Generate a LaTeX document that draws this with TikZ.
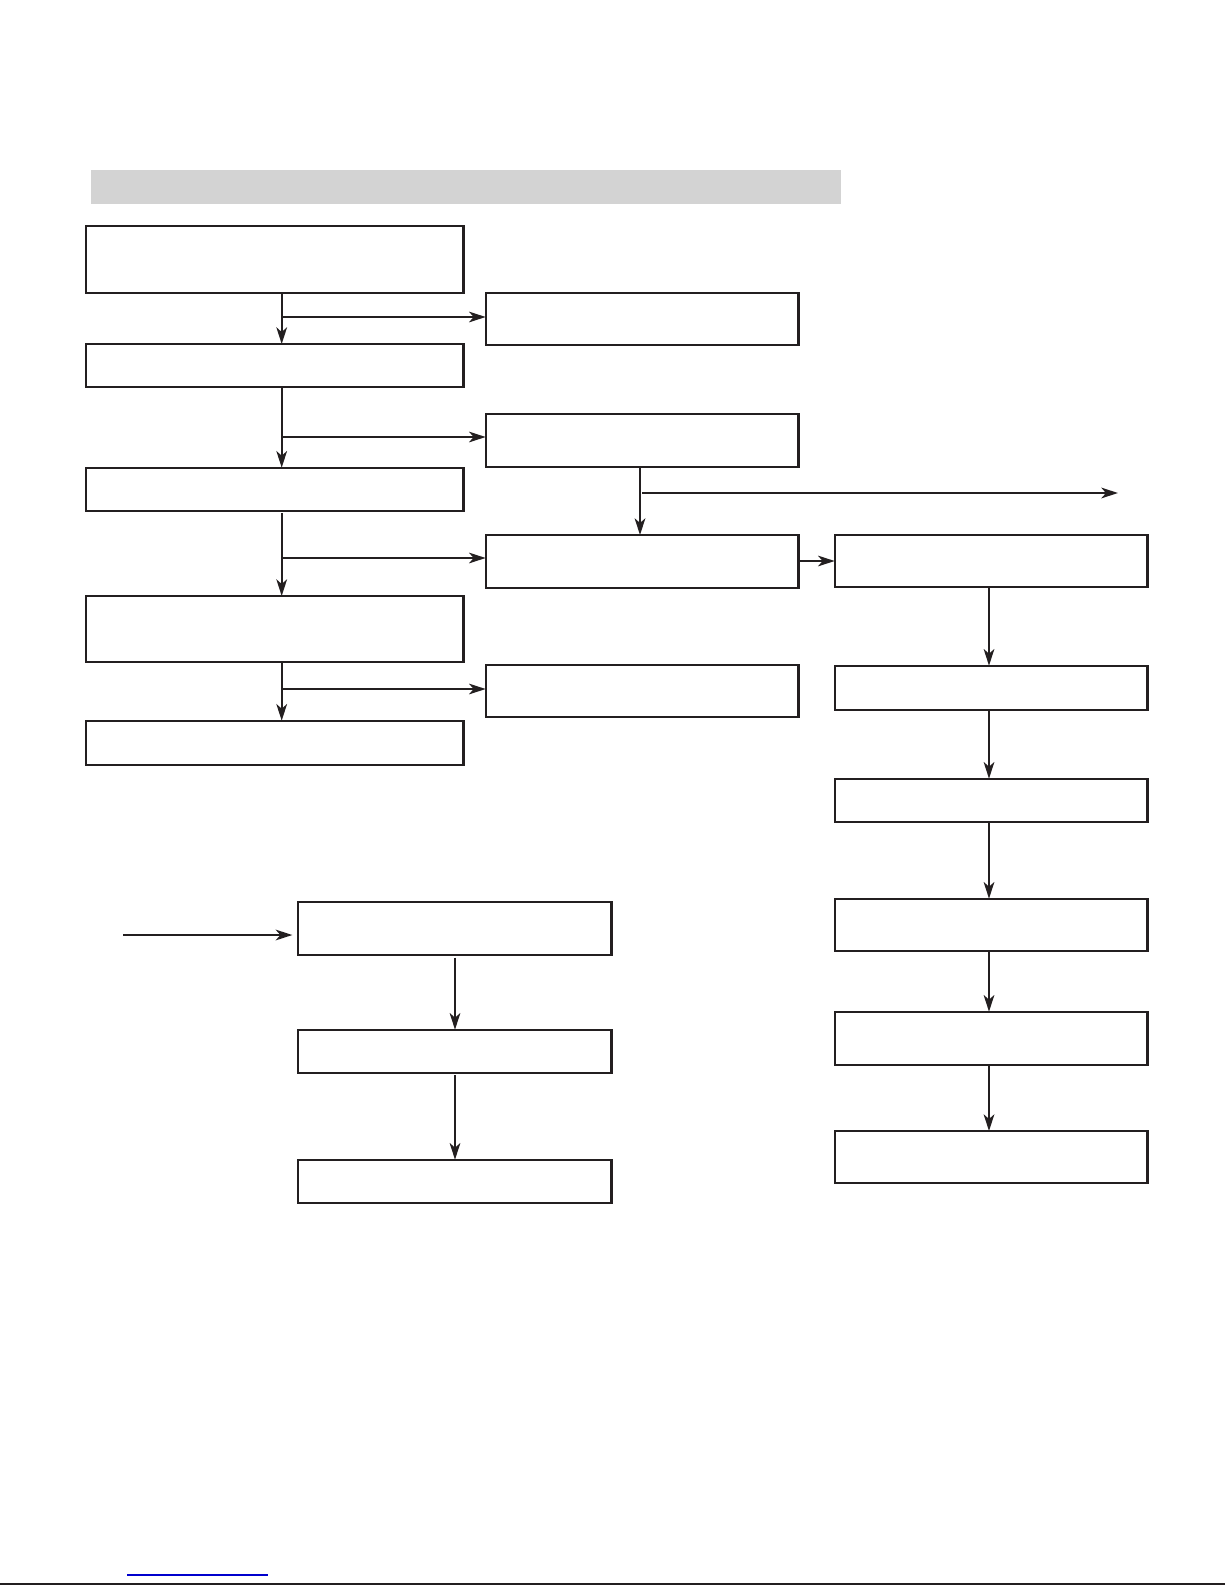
\documentclass[tikz,border=0pt]{standalone}
\usetikzlibrary{arrows.meta}
\definecolor{ink}{RGB}{35,31,32}
\definecolor{barfill}{RGB}{211,211,211}
\definecolor{linkblue}{RGB}{0,0,205}
\newcommand{\bx}[5]{\node[box, minimum width={(#4-#2)*0.75pt}, minimum height={(#5-#3)*0.75pt}] (#1) at ({(#2+#4)/2},{(#3+#5)/2}) {};}
\begin{document}
\begin{tikzpicture}[x=0.75pt,y=-0.75pt,
  box/.style={draw=ink, line width=1.8pt, rectangle, inner sep=0pt, outer sep=0pt, fill=white},
  arr/.style={draw=ink, line width=1.6pt, -{Stealth[length=12.5pt,width=8pt,inset=3.5pt]}},
  ln/.style={draw=ink, line width=1.6pt}]
\useasboundingbox (0,0) rectangle (1225,1585);
% header bar
\fill[barfill] (91,170) rectangle (841,204);
% left column
\bx{L1}{85.7}{225.7}{463.3}{292.7}
\bx{L2}{85.7}{344}{463.3}{387}
\bx{L3}{85.7}{467.7}{463.3}{511}
\bx{L4}{85.7}{596}{463.3}{662}
\bx{L5}{85.7}{720.7}{463.3}{765}
% middle column
\bx{M1}{485.7}{292.7}{798.3}{345}
\bx{M2}{485.7}{413.7}{798.3}{467}
\bx{M3}{485.7}{535}{798.3}{588}
\bx{M4}{485.7}{665}{798.3}{716.7}
% right column
\bx{R1}{834.7}{534.7}{1147.3}{587}
\bx{R2}{834.7}{665.7}{1147.3}{710}
\bx{R3}{834.7}{778.7}{1147.3}{822}
\bx{R4}{834.7}{898.7}{1147.3}{951}
\bx{R5}{834.7}{1011.7}{1147.3}{1065}
\bx{R6}{834.7}{1131}{1147.3}{1182.7}
% bottom chain
\bx{B1}{297.7}{901.7}{611.3}{955}
\bx{B2}{297.7}{1029.7}{611.3}{1072.7}
\bx{B3}{297.7}{1159.7}{611.3}{1203}
% junction coordinates
\coordinate (j1) at (281.7,317);
\coordinate (j2) at (281.7,437);
\coordinate (j3) at (281.7,558);
\coordinate (j4) at (281.7,689);
\coordinate (mj) at (640,493);
\coordinate (mend) at (1118,493);
\coordinate (rx) at (989,0);
\coordinate (bx) at (455,0);
\coordinate (bin) at (123,935);
% left verticals
\draw[arr] (L1.south -| j1) -- (L2.north -| j1);
\draw[arr] (L2.south -| j1) -- (L3.north -| j1);
\draw[arr] ([yshift=-1.5pt]L3.south -| j1) -- (L4.north -| j1);
\draw[arr] (L4.south -| j1) -- (L5.north -| j1);
% branches to middle
\draw[arr] (j1) -- (j1 -| M1.west);
\draw[arr] (j2) -- (j2 -| M2.west);
\draw[arr] (j3) -- (j3 -| M3.west);
\draw[arr] (j4) -- (j4 -| M4.west);
% middle vertical and long branch
\draw[arr] (M2.south -| mj) -- (M3.north -| mj);
\draw[arr] ([xshift=1.5pt]mj) -- (mend);
% middle to right
\draw[arr] ([xshift=1.5pt]M3.east |- 0,561) -- (R1.west |- 0,561);
% right verticals
\draw[arr] (R1.south -| rx) -- (R2.north -| rx);
\draw[arr] (R2.south -| rx) -- (R3.north -| rx);
\draw[arr] (R3.south -| rx) -- (R4.north -| rx);
\draw[arr] (R4.south -| rx) -- (R5.north -| rx);
\draw[arr] (R5.south -| rx) -- (R6.north -| rx);
% bottom chain
\draw[arr] (bin) -- ([xshift=-4pt]bin -| B1.west);
\draw[arr] ([yshift=-2pt]B1.south -| bx) -- (B2.north -| bx);
\draw[arr] ([yshift=-2pt]B2.south -| bx) -- (B3.north -| bx);
% footer lines
\draw[linkblue, line width=0.8pt] (127,1575) -- (268,1575);
\draw[ink, line width=1.5pt] (0,1584) -- (1225,1584);
\end{tikzpicture}
\end{document}
